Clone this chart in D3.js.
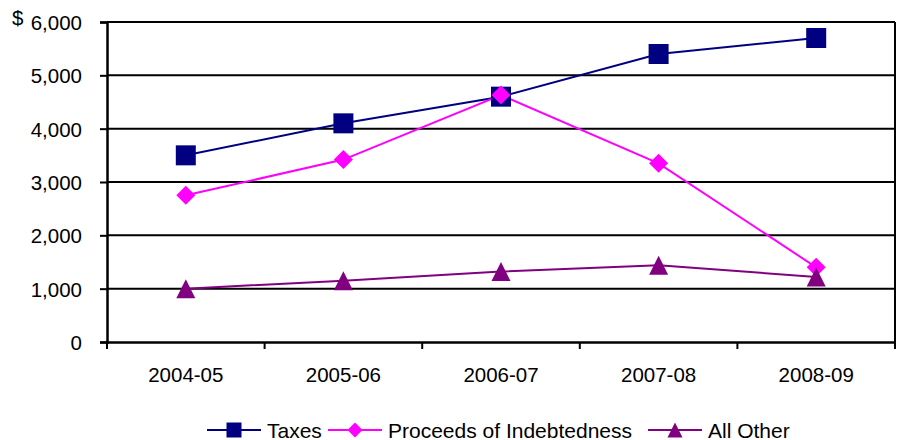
<html lang="en">
<head>
<title>Revenue chart</title>
<script src="https://d3js.org/d3.v7.min.js"></script>
<style>
  body { margin: 0; background: #fff; }
  text { font-family: "Liberation Sans", Arial, sans-serif; font-size: 20.5px; fill: #000; }
</style>
</head>
<body>
<div id="chart"></div>
<script>
// data
var years = ["2004-05", "2005-06", "2006-07", "2007-08", "2008-09"];
var taxes = [3500, 4100, 4600, 5400, 5700];
var proceeds = [2750, 3420, 4630, 3350, 1400];
var allOther = [1000, 1150, 1320, 1440, 1220];
var yTicks = [0, 1000, 2000, 3000, 4000, 5000, 6000];

var series = [
  {name: "Taxes", values: taxes, color: "#000080", shape: "square"},
  {name: "Proceeds of Indebtedness", values: proceeds, color: "#ff00ff", shape: "diamond"},
  {name: "All Other", values: allOther, color: "#800080", shape: "triangle"}
];

var margin = {top: 22, right: 4, bottom: 98, left: 107},
    width = 899 - margin.left - margin.right,
    height = 440 - margin.top - margin.bottom;

var svg = d3.select("#chart").append("svg")
    .attr("width", 899)
    .attr("height", 440)
  .append("g")
    .attr("transform", "translate(" + margin.left + "," + margin.top + ")");

var x = d3.scaleBand().domain(years).range([0, width]);
var y = d3.scaleLinear().domain([0, 6000]).range([height, 0]);

// marker paths
function marker(shape, s) {
  var h = s / 2;
  if (shape == "square") return "M" + -h + "," + -h + "h" + s + "v" + s + "h" + -s + "Z";
  if (shape == "diamond") return "M0," + -h + "L" + h + ",0L0," + h + "L" + -h + ",0Z";
  return "M0," + -h + "L" + h + "," + h + "L" + -h + "," + h + "Z";
}

// gridlines
svg.append("g")
  .selectAll("line")
  .data(yTicks.filter(function(d) { return d > 0; }))
  .enter().append("line")
    .attr("x1", 0)
    .attr("x2", width)
    .attr("y1", function(d) { return y(d); })
    .attr("y2", function(d) { return y(d); })
    .attr("stroke", "#000")
    .attr("stroke-width", 2);

// right border of plot area
svg.append("line")
  .attr("x1", width).attr("x2", width)
  .attr("y1", 0).attr("y2", height)
  .attr("stroke", "#000").attr("stroke-width", 2);

// Y axis
var yAxis = svg.append("g")
  .call(d3.axisLeft(y).tickValues(yTicks).tickSize(7).tickPadding(18)
    .tickFormat(d3.format(",")));
yAxis.select(".domain").attr("stroke-width", 2.5);
yAxis.selectAll(".tick line").attr("stroke-width", 2);
yAxis.selectAll("text").style("font-size", "20.5px").attr("dy", "0.36em");

// X axis, ticks at category boundaries
var xAxis = svg.append("g")
  .attr("transform", "translate(0," + height + ")")
  .call(d3.axisBottom(x).tickSize(0).tickPadding(25));
xAxis.select(".domain").attr("stroke-width", 2.5);
xAxis.selectAll("text").style("font-size", "20.5px");
xAxis.selectAll(".bound")
  .data(d3.range(years.length + 1))
  .enter().append("line")
    .attr("x1", function(i) { return i * x.bandwidth(); })
    .attr("x2", function(i) { return i * x.bandwidth(); })
    .attr("y1", 0).attr("y2", 7)
    .attr("stroke", "#000").attr("stroke-width", 2);

// $ label
svg.append("text")
  .attr("x", -95)
  .attr("y", 3)
  .style("font-size", "20.5px")
  .text("$");

// lines and markers
var line = d3.line()
  .x(function(d, i) { return x(years[i]) + x.bandwidth() / 2; })
  .y(function(d) { return y(d); });

series.forEach(function(s) {
  svg.append("path")
    .attr("d", line(s.values))
    .attr("fill", "none")
    .attr("stroke", s.color)
    .attr("stroke-width", 2);
});
series.forEach(function(s) {
  var size = s.shape == "square" ? 20 : 19;
  svg.selectAll(".m-" + s.shape)
    .data(s.values)
    .enter().append("path")
      .attr("transform", function(d, i) {
        return "translate(" + (x(years[i]) + x.bandwidth() / 2) + "," + y(d) + ")";
      })
      .attr("d", marker(s.shape, size))
      .attr("fill", s.color);
});

// legend
var legendX = [207, 328, 648];
var legend = d3.select("svg").append("g");
series.forEach(function(s, i) {
  var g = legend.append("g").attr("transform", "translate(" + legendX[i] + ",430)");
  g.append("line").attr("x1", 0).attr("x2", 54)
    .attr("stroke", s.color).attr("stroke-width", 2);
  g.append("path").attr("transform", "translate(27,0)")
    .attr("d", marker(s.shape, 15)).attr("fill", s.color);
  g.append("text").attr("x", 60).attr("y", 7.5)
    .style("font-size", "21px").text(s.name);
});
</script>
</body>
</html>
